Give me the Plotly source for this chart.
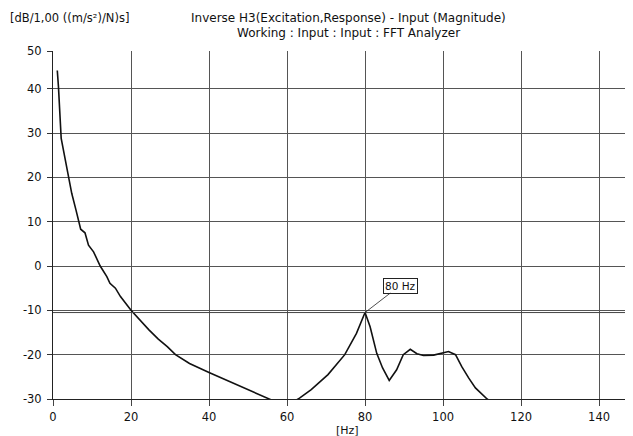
import plotly.graph_objects as go

# Frequency [Hz] and magnitude [dB]
freq = [1.1, 1.4, 2.1, 2.9, 3.9, 4.8, 5.9, 6.7, 7.1, 8.2, 9.1, 10.4, 12.1, 13.8, 14.6, 16.0, 17.3,
        20.0, 22.0, 24.6, 27.0, 29.3, 31.4, 35.0, 40.0, 43.5, 47.3, 51.0, 55.0, 58.0, 61.0,
        63.2, 66.2, 70.5, 74.8, 77.8, 80.0, 81.3, 83.0, 84.5, 86.2, 88.1, 89.8, 91.6, 93.3,
        95.0, 97.6, 99.7, 101.4, 103.2, 104.8, 106.6, 108.3, 111.3, 113.0]
mag = [44.1, 40.4, 28.8, 25.0, 20.0, 16.4, 12.6, 9.9, 8.3, 7.5, 4.7, 3.2, 0.0, -2.4, -3.9, -5.0, -6.9,
       -10.0, -12.0, -14.4, -16.5, -18.2, -20.0, -22.0, -24.0, -25.4, -26.8, -28.3, -30.0, -31.0, -31.0,
       -29.8, -27.9, -24.5, -20.0, -15.2, -10.5, -13.7, -19.7, -23.0, -25.8, -23.4, -20.0, -18.8, -19.8,
       -20.2, -20.1, -19.7, -19.3, -20.0, -22.7, -25.3, -27.5, -30.0, -31.0]

x_ticks = [0, 20, 40, 60, 80, 100, 120, 140]
y_tickvals = [48.5, 40, 30, 20, 10, 0, -10, -20, -30]
y_ticktext = ["50", "40", "30", "20", "10", "0", "-10", "-20", "-30"]
peak_freq = 80
peak_level = -10.5
peak_label = "80 Hz"

font = "DejaVu Sans, Liberation Sans, Arial, sans-serif"
ink = "#111111"

fig = go.Figure()
fig.add_trace(go.Scatter(x=freq, y=mag, mode="lines",
                         line=dict(color=ink, width=1.6), showlegend=False,
                         hoverinfo="skip"))

# Cursor line at peak level
fig.add_shape(type="line", xref="paper", x0=0, x1=1, yref="y", y0=peak_level, y1=peak_level,
              line=dict(color="#444444", width=1))

fig.add_annotation(x=peak_freq, y=peak_level, text=peak_label, showarrow=True,
                   arrowhead=0, arrowwidth=0.8, arrowcolor="#222222",
                   ax=35, ay=-27, bordercolor="#222222", borderwidth=1, borderpad=1,
                   bgcolor="white", font=dict(family=font, size=10.5, color=ink))

fig.add_annotation(xref="paper", yref="paper", x=-0.0776, y=1.096, xanchor="left", yanchor="middle",
                   text="[dB/1,00 ((m/s²)/N)s]", showarrow=False,
                   font=dict(family=font, size=11.5, color=ink))
fig.add_annotation(xref="paper", yref="paper", x=0.510, y=1.096, xanchor="center", yanchor="middle",
                   text="Inverse H3(Excitation,Response) - Input (Magnitude)", showarrow=False,
                   font=dict(family=font, size=12, color=ink))
fig.add_annotation(xref="paper", yref="paper", x=0.510, y=1.052, xanchor="center", yanchor="middle",
                   text="Working : Input : Input : FFT Analyzer", showarrow=False,
                   font=dict(family=font, size=12, color=ink))
fig.add_annotation(xref="x", yref="paper", x=75.5, y=-0.09, xanchor="center", yanchor="middle",
                   text="[Hz]", showarrow=False,
                   font=dict(family=font, size=11, color=ink))

fig.update_layout(
    width=625, height=428,
    margin=dict(l=45, r=0, t=43, b=37),
    paper_bgcolor="white", plot_bgcolor="white",
    font=dict(family=font, size=11, color=ink),
    xaxis=dict(range=[0, 148.7], tickvals=x_ticks, showgrid=True, gridcolor="#555555", gridwidth=1,
               zeroline=False, showline=True, linecolor="#222222", linewidth=1,
               ticks="outside", ticklen=6, tickcolor="#444444", ticklabelstandoff=1,
               tickfont=dict(family=font, size=11.5, color=ink)),
    yaxis=dict(range=[-30, 48.5], tickvals=y_tickvals, ticktext=y_ticktext, showgrid=True,
               gridcolor="#555555", gridwidth=1, zeroline=False, showline=True,
               linecolor="#222222", linewidth=1, ticks="outside", ticklen=5, tickcolor="#333333",
               ticklabelstandoff=3,
               tickfont=dict(family=font, size=11.5, color=ink)),
)

fig.write_html("out.html")
